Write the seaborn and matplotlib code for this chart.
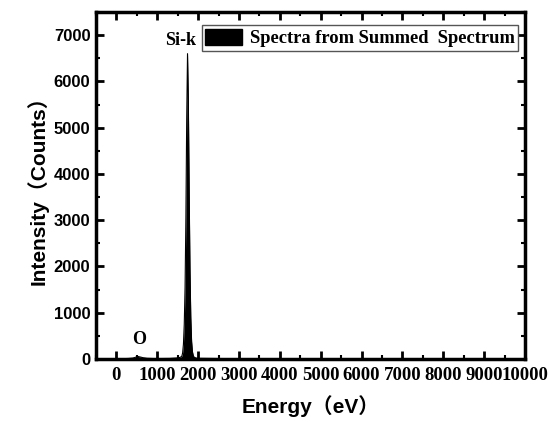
import matplotlib
matplotlib.use("Agg")
import matplotlib.pyplot as plt
from matplotlib.patches import Patch
from matplotlib.ticker import MultipleLocator
import seaborn as sns
import pandas as pd

# ---- data ----
energy = [0, 100, 200, 300, 400, 460, 500, 525, 560, 600, 650, 750, 900, 1100, 1300,
          1450, 1500, 1560, 1600, 1620, 1640, 1660, 1680, 1700, 1720, 1740, 1760,
          1780, 1800, 1820, 1840, 1860, 1880, 1900, 1950, 2000, 2500, 3000, 4000,
          5000, 6000, 7000, 8000, 9000, 10000]
counts = [0, 5, 8, 12, 20, 35, 50, 55, 48, 40, 28, 15, 10, 10, 12,
          20, 25, 35, 60, 130, 320, 750, 1550, 3050, 5200, 6600, 5600,
          3650, 1950, 900, 380, 160, 75, 40, 20, 15, 10, 8, 5,
          4, 3, 2, 2, 1, 0]
x_ticks = [0, 1000, 2000, 3000, 4000, 5000, 6000, 7000, 8000, 9000, 10000]
y_ticks = [0, 1000, 2000, 3000, 4000, 5000, 6000, 7000]
legend_label = "Spectra from Summed  Spectrum"
peak_labels = ["Si-k", "O"]
peak_pos = [(1570, 6700), (560, 230)]
x_label = "Energy（eV）"
y_label = "Intensity（Counts）"

df = pd.DataFrame({"Energy": energy, "Counts": counts})

sns.set_style("ticks")
plt.rcParams["font.family"] = ["Liberation Sans", "Noto Sans CJK SC", "DejaVu Sans"]
plt.rcParams["xtick.direction"] = "in"
plt.rcParams["ytick.direction"] = "in"
for k in ["text.color", "axes.labelcolor", "xtick.color", "ytick.color", "axes.edgecolor"]:
    plt.rcParams[k] = "black"

fig, ax = plt.subplots(figsize=(5.49, 4.22), dpi=100)
fig.subplots_adjust(left=96/549, right=525/549, bottom=1-359/422, top=1-12/422)

sns.lineplot(data=df, x="Energy", y="Counts", color="black", lw=0.8, ax=ax)
ax.fill_between(df["Energy"], df["Counts"], 0, color="black", lw=0)

ax.set_xlim(-500, 10000)
ax.set_ylim(0, 7500)
ax.set_xticks(x_ticks)
ax.set_yticks(y_ticks)
ax.xaxis.set_minor_locator(MultipleLocator(500))
ax.yaxis.set_minor_locator(MultipleLocator(500))
ax.tick_params(which="major", length=6, width=2, top=True, right=True,
               labeltop=False, labelright=False, colors="black")
ax.tick_params(which="minor", length=3, width=1.5, top=True, right=True, colors="black")
for s in ax.spines.values():
    s.set_linewidth(2.5)
    s.set_color("black")
    s.set_visible(True)

for lab in ax.get_xticklabels():
    lab.set_fontfamily(["Liberation Serif"])
    lab.set_fontweight("bold")
    lab.set_fontsize(13.5)
for lab in ax.get_yticklabels():
    lab.set_fontfamily(["Liberation Sans"])
    lab.set_fontweight("bold")
    lab.set_fontsize(12)
ax.tick_params(axis="x", pad=6)
ax.tick_params(axis="y", pad=4)

ax.set_xlabel(x_label, fontsize=15, fontweight="bold", color="black",
              family=["Liberation Sans", "Noto Sans CJK SC"], labelpad=8)
ax.set_ylabel(y_label, fontsize=15, fontweight="bold", color="black",
              family=["Liberation Sans", "Noto Sans CJK SC"], labelpad=4)

for t, (px, py) in zip(peak_labels, peak_pos):
    ax.text(px, py, t, ha="center", va="bottom", fontsize=13, fontweight="bold",
            color="black", family=["Liberation Serif"])

leg = ax.legend(handles=[Patch(facecolor="black", edgecolor="black", label=legend_label)],
                loc="upper right", bbox_to_anchor=(0.984, 0.962), borderaxespad=0,
                frameon=True, fancybox=False, framealpha=1, edgecolor="#555555",
                handlelength=2.0, handleheight=1.0, handletextpad=0.4,
                borderpad=0.2, prop={"family": "Liberation Serif", "weight": "bold", "size": 13.3})
leg.get_frame().set_linewidth(1)
for t in leg.get_texts():
    t.set_color("black")
ax.set_facecolor("white")
fig.patch.set_facecolor("white")
fig.savefig("out.png", dpi=100)
